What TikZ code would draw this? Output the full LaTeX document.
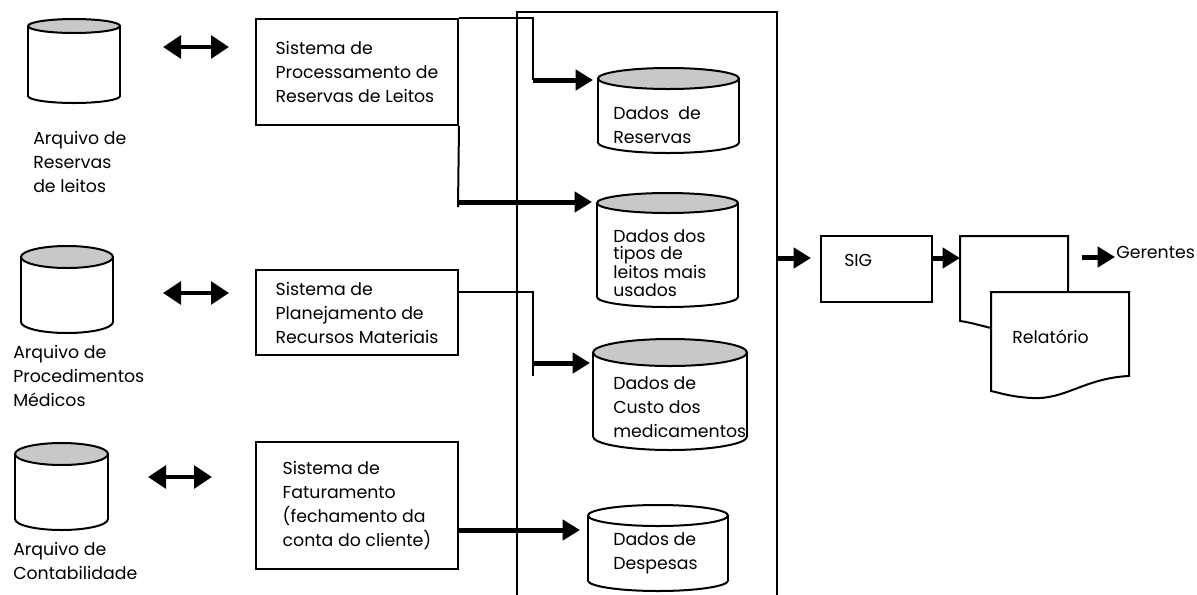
\documentclass[tikz,border=0pt]{standalone}
\usepackage{fontspec}
\setmainfont{Poppins}
\usetikzlibrary{arrows.meta,calc}
\definecolor{cylgray}{RGB}{200,200,200}
\tikzset{
  box/.style={draw, line width=1.5pt, inner sep=0pt, align=left, font=\fontsize{13}{18}\selectfont},
  can/.style={inner sep=0pt, outer sep=0pt},
  wire/.style={line width=1.5pt},
  fat/.style={line width=3.75pt, -{Triangle[length=13pt,width=15pt]}},
  dbl/.style={line width=3pt, {Triangle[length=13.5pt,width=17pt]}-{Triangle[length=13.5pt,width=17pt]}},
  txt/.style={font=\fontsize{13}{18}\selectfont, inner sep=0.75pt, align=left}
}

\begin{document}
\begin{tikzpicture}[x=0.75pt,y=0.75pt,yscale=-1,xscale=1]
\useasboundingbox (0,0) rectangle (1197,594);

%Big frame [id:sis]
\node[draw, line width=1.5pt, minimum width=195pt, minimum height=456pt] (sis) at (647,316) {};

%Shape: Can [id:c1]
\node[can, minimum width=69pt, minimum height=63pt] (c1) at (74,61) {};
%Shape: Can [id:c2]
\node[can, minimum width=69pt, minimum height=65.25pt] (c2) at (67,289.5) {};
%Shape: Can [id:c3]
\node[can, minimum width=69.75pt, minimum height=65.25pt] (c3) at (61.5,486.5) {};
%Shape: Can [id:d1]
\node[can, minimum width=105.75pt, minimum height=63.75pt] (d1) at (668.5,110.5) {};
%Shape: Can [id:d2]
\node[can, minimum width=105.75pt, minimum height=85.5pt] (d2) at (667.5,250) {};
%Shape: Can [id:d3]
\node[can, minimum width=115.5pt, minimum height=83.25pt] (d3) at (670,394.5) {};
%Shape: Can [id:d4]
\node[can, minimum width=105pt, minimum height=64.5pt] (d4) at (658,548) {};

\foreach \n/\rx/\ry/\f in {c1/46/7/cylgray, c2/46/11/cylgray, c3/46.5/11/cylgray, d1/70.5/10.5/cylgray, d2/70.5/10/cylgray, d3/77/13.5/cylgray, d4/70/10.5/white}{
  \coordinate (bt) at ($(\n.north)+(0,\ry)$);
  \coordinate (bb) at ($(\n.south)+(0,-\ry)$);
  \draw[wire, fill=white] (bb) ellipse ({\rx} and {\ry});
  \fill[white] (bt -| \n.west) rectangle (bb -| \n.east);
  \draw[wire] (bt -| \n.west) -- (bb -| \n.west) (bt -| \n.east) -- (bb -| \n.east);
  \draw[wire, fill=\f] (bt) ellipse ({\rx} and {\ry});
}

%Shape: Rectangle [id:box1]
\node[box, minimum width=151.5pt, minimum height=79.5pt] (box1) at (357,72) {Sistema de\\Processamento de\\Reservas de Leitos};
%Shape: Rectangle [id:box2]
\node[box, minimum width=151.5pt, minimum height=63.75pt] (box2) at (357,312.5) {Sistema de\\Planejamento de\\Recursos Materiais};
%Shape: Rectangle [id:box3]
\node[box, minimum width=151.5pt, minimum height=95.25pt] (box3) at (357,505.5) {Sistema de\\Faturamento\\(fechamento da\\conta do cliente)};
%Shape: Rectangle [id:sig]
\node[box, minimum width=83.25pt, minimum height=49.5pt] (sig) at (876.5,269) {};

%Shape: Document [id:doc]
\coordinate (doc) at (960,236);
\draw[wire] (991,328) .. controls (975,324) and (968,322) .. (960,321) -- (doc) -- (1068,236) -- (1068,292);
\draw[wire, fill=white] (991,292) -- (1129,292) -- (1129,376) .. controls (1085,378) and (1065,400) .. (1032,398) .. controls (1012,397) and (1000,393) .. (991,391) -- cycle;

% Text Node
\draw (32,162) node [anchor=west][txt] (t1) {Arquivo de\\Reservas\\de leitos};
% Text Node
\draw (12,376) node [anchor=west][txt] (t2) {Arquivo de\\Procedimentos\\Médicos};
% Text Node
\draw (12,561) node [anchor=west][txt] (t3) {Arquivo de\\Contabilidade};
% Text Node
\draw (612,125) node [anchor=west][txt] (td1) {Dados~ de\\Reservas};
% Text Node
\draw (612,263) node [anchor=west][txt, font=\fontsize{13}{13}\selectfont] (td2) {Dados dos\\tipos de\\leitos mais\\usados};
% Text Node
\draw (612,407) node [anchor=west][txt] (td3) {Dados de\\Custo dos\\medicamentos};
% Text Node
\draw (612,553.5) node [anchor=west][txt] (td4) {Dados de\\Despesas};
% Text Node
\draw (843,260) node [anchor=west][txt] (tsig) {SIG};
% Text Node
\draw (1011,337) node [anchor=west][txt] (trel) {Relatório};
% Text Node
\draw (1115,252) node [anchor=west][txt] (ger) {Gerentes};

%Double arrows
\coordinate (a1l) at (163,47);  \coordinate (a1r) at (229,47);
\coordinate (a2l) at (163,293); \coordinate (a2r) at (229,293);
\coordinate (a3l) at (148,477); \coordinate (a3r) at (212,477);
\draw[dbl] (a1l) -- (a1r);
\draw[dbl] (a2l) -- (a2r);
\draw[dbl] (a3l) -- (a3r);

%Connectors
\coordinate (j1) at (533,80);
\draw[wire] (box1.north east) -| (j1);
\draw[fat, shorten >=3.75pt] (j1) -- (j1 -| d1.west);
\coordinate (j2) at (458,202); \coordinate (j2s) at (458,207);
\draw[wire] (box1.south east) -- (j2s);
\draw[fat, shorten >=3.75pt] (j2) -- (j2 -| d2.west);
\coordinate (p2) at (458,292); \coordinate (j3) at (533,363); \coordinate (j3s) at (533,376);
\draw[wire] (p2) -| (j3s);
\draw[fat, shorten >=2.25pt] (j3) -- (j3 -| d3.west);
\coordinate (p3) at (458,530);
\draw[fat, shorten >=6pt] (p3) -- (p3 -| d4.west);
\coordinate (s0) at (777,258);
\draw[fat, shorten >=6.75pt] (s0) -- (s0 -| sig.west);
\coordinate (s1) at (932,258);
\draw[fat] (s1) -- (s1 -| doc);
\coordinate (g0) at (1082,257);
\draw[fat] (g0) -- (g0 -| ger.west);

\end{tikzpicture}
\end{document}
